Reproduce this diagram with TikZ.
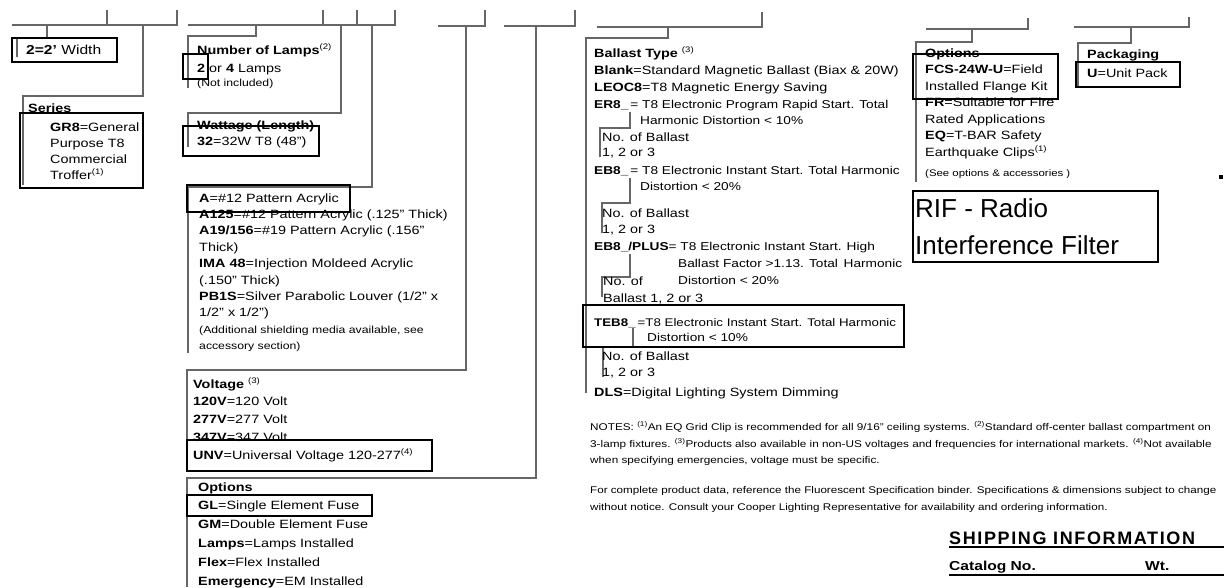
\documentclass[tikz,border=0pt]{standalone}
\usepackage{fontspec}
\setmainfont[FakeStretch=1.2]{Liberation Sans}
\newfontfamily\riffont{Liberation Sans}
\newfontfamily\shipfont[LetterSpace=9]{Liberation Sans}
\usetikzlibrary{positioning}
\newcommand{\txtrows}[1]{\begin{tabular}[t]{@{}l@{}}#1\end{tabular}}

\begin{document}
\begin{tikzpicture}[x=1pt,y=-1pt,
  rule/.style={draw=black!60, line width=1.1pt},
  hit/.style={draw=black, line width=2.6pt},
  txt/.style={anchor=base west, inner sep=0pt, font=\fontsize{12}{17}\selectfont},
  nar/.style={txt, font=\fontsize{11.4}{16}\selectfont},
  sml/.style={txt, font=\fontsize{10.2}{16.2}\selectfont},
  note/.style={txt, font=\fontsize{9.8}{16.5}\selectfont}]
\useasboundingbox (0,0) rectangle (1224,587);
\foreach \xa/\xb/\ya/\yt in {12/177/25/10, 188/395/25/10, 438/485/26/10, 504/575/26/10, 597/762/27/12, 926/1028/29/18, 1074/1189/27/17}
  \draw[rule] (\xa,\ya) -- (\xb,\ya) -- (\xb,\yt);
\foreach \xa in {107,323,357} \draw[rule] (\xa,25) -- (\xa,10);
\foreach \n/\dx/\dy/\ty/\lx/\by in {1/47/25/38/17/57, 2/143/25/96/23/185, 3/256/25/36/188/88, 4/341/25/113/188/147, 5/372/25/187/188/353, 6/466/26/370/187/460, 7/536/26/478/187/587, 8/668/27/38/586/393, 9/972/29/42/916/182, 10/1131/27/43/1078/86}
  { \coordinate (d\n) at (\dx,\dy); \draw[rule] (d\n) |- (\lx,\ty) -- (\lx,\by); }
\foreach \xa/\ya/\yb/\xc/\yc in {630/112/128/600/157, 630/178/203/602/233, 630/254/277/602/297, 633/328/347/603/377}
  \draw[rule] (\xa,\ya) |- (\xc,\yb) -- (\xc,\yc);

\node[txt, font=\fontsize{13}{17}\selectfont] (width) at (26,54.5) {\textbf{2=2'} Width};
\node[txt] (series) at (28,112) {\textbf{Series}};
\node[txt, font=\fontsize{12}{16}\selectfont] (gr8) at (50,131) {\txtrows{\textbf{GR8}=General\\Purpose T8\\Commercial\\Troffer\textsuperscript{(1)}}};
\node[txt, font=\fontsize{12}{18}\selectfont] (lamps) at (197,54) {\txtrows{\textbf{Number of Lamps}\textsuperscript{(2)}\\\textbf{2} or \textbf{4} Lamps}};
\node[sml] (notinc) at (197,86) {(Not included)};
\node[txt, font=\fontsize{12}{16}\selectfont] (watt) at (197,129) {\txtrows{\textbf{Wattage (Length)}\\\textbf{32}=32W T8 (48")}};
\node[txt, font=\fontsize{12}{16.4}\selectfont] (acryl) at (199,202) {\txtrows{\textbf{A}=\#12 Pattern Acrylic\\\textbf{A125}=\#12 Pattern Acrylic (.125" Thick)\\\textbf{A19/156}=\#19 Pattern Acrylic (.156"\\Thick)\\\textbf{IMA 48}=Injection Moldeed Acrylic\\(.150" Thick)\\\textbf{PB1S}=Silver Parabolic Louver (1/2" x\\1/2" x 1/2")}};
\node[sml] (shield) at (199,333.5) {\txtrows{(Additional shielding media available, see\\accessory section)}};
\node[txt, font=\fontsize{12}{17.75}\selectfont] (volt) at (193,388) {\txtrows{\textbf{Voltage} \textsuperscript{(3)}\\\textbf{120V}=120 Volt\\\textbf{277V}=277 Volt\\\textbf{347V}=347 Volt\\\textbf{UNV}=Universal Voltage 120-277\textsuperscript{(4)}}};
\node[txt, font=\fontsize{12}{18.8}\selectfont] (opt) at (198,491) {\txtrows{\textbf{Options}\\\textbf{GL}=Single Element Fuse\\\textbf{GM}=Double Element Fuse\\\textbf{Lamps}=Lamps Installed\\\textbf{Flex}=Flex Installed\\\textbf{Emergency}=EM Installed}};

\node[txt] (bal) at (594,57) {\txtrows{\textbf{Ballast Type} \textsuperscript{(3)}\\\textbf{Blank}=Standard Magnetic Ballast (Biax \& 20W)\\\textbf{LEOC8}=T8 Magnetic Energy Saving}};
\node[nar] (er8) at (594,108) {\textbf{ER8\_}\,= T8 Electronic Program Rapid Start. Total};
\node[nar] (er8d) at (640,124) {Harmonic Distortion < 10\%};
\node[nar, font=\fontsize{12}{15.5}\selectfont] (nob1) at (602,141) {\txtrows{No. of Ballast\\1, 2 or 3}};
\node[nar] (eb8) at (594,174) {\textbf{EB8\_}\,= T8 Electronic Instant Start. Total Harmonic};
\node[nar] (eb8d) at (640,190) {Distortion < 20\%};
\node[txt, font=\fontsize{12}{16}\selectfont] (nob2) at (602,217) {\txtrows{No. of Ballast\\1, 2 or 3}};
\node[nar] (plus) at (594,250) {\textbf{EB8\_/PLUS}= T8 Electronic Instant Start. High};
\node[nar, font=\fontsize{11.4}{17}\selectfont] (plusd) at (678,267) {\txtrows{Ballast Factor >1.13. Total\ \,Harmonic\\Distortion < 20\%}};
\node[txt] (nob3) at (603,285) {\txtrows{No. of\\Ballast 1, 2 or 3}};
\node[nar, font=\fontsize{11.1}{16}\selectfont] (teb8) at (594,326) {\textbf{TEB8\_}\,=T8 Electronic Instant Start. Total Harmonic};
\node[nar] (teb8d) at (647,341) {Distortion < 10\%};
\node[txt, font=\fontsize{12}{16}\selectfont] (nob4) at (602,360) {\txtrows{No. of Ballast\\1, 2 or 3}};
\node[txt] (dls) at (594,396) {\textbf{DLS}=Digital Lighting System Dimming};

\node[txt, font=\fontsize{12}{16.5}\selectfont] (opt2) at (925,57) {\txtrows{\textbf{Options}\\\textbf{FCS-24W-U}=Field\\Installed Flange Kit\\\textbf{FR}=Suitable for Fire\\Rated Applications\\\textbf{EQ}=T-BAR Safety\\Earthquake Clips\textsuperscript{(1)}}};
\node[txt, font=\fontsize{9.5}{16}\selectfont] (seeopt) at (925,176) {(See options \& accessories )};
\node[txt, font=\fontsize{12}{19}\selectfont] (pack) at (1087,58) {\txtrows{\textbf{Packaging}\\\textbf{U}=Unit Pack}};
\node[txt, font=\riffont\fontsize{26}{37}\selectfont] (rif) at (915,217) {\txtrows{RIF - Radio\\Interference Filter}};

\foreach \xa/\ya/\xb/\yb in {12/38/117/62, 20/113/143/188, 183/54/208/79, 183/126/319/156, 187/185/350/212, 187/440/432/471, 187/495/372/516, 583/305/904/347, 913/54/1058/99, 1076/62/1180/87, 913/191/1158/262}
  \draw[hit] (\xa,\ya) rectangle (\xb,\yb);
\fill (1219,175) rectangle (1223,179);

\node[note] (notes) at (590,430.5) {\txtrows{NOTES: \textsuperscript{(1)}An EQ Grid Clip is recommended for all 9/16" ceiling systems. \textsuperscript{(2)}Standard off-center ballast compartment on\\3-lamp fixtures. \textsuperscript{(3)}Products also available in non-US voltages and frequencies for international markets. \textsuperscript{(4)}Not available\\when specifying emergencies, voltage must be specific.}};
\node[txt, font=\fontsize{9.7}{16.5}\selectfont] (data) at (590,493.5) {\txtrows{For complete product data, reference the Fluorescent Specification binder. Specifications \& dimensions subject to change\\without notice. Consult your Cooper Lighting Representative for availability and ordering information.}};

\node[txt, font=\shipfont\bfseries\fontsize{18}{20}\selectfont] (ship) at (949,544.5) {SHIPPING INFORMATION};
\node[txt, font=\bfseries\fontsize{13}{16}\selectfont] (cat) at (949,570.5) {Catalog No.};
\node[txt, font=\bfseries\fontsize{13}{16}\selectfont] (wt) at (1145,570.5) {Wt.};
\draw[line width=1.2pt] (ship.base west |- 0,547) -- (1224,547);
\draw[line width=1.2pt] (cat.base west |- 0,575) -- (1224,575);
\end{tikzpicture}
\end{document}
